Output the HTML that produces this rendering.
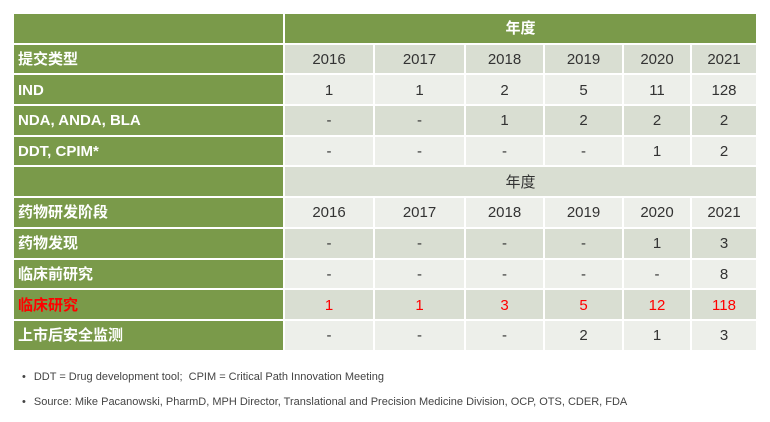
<!DOCTYPE html>
<html><head><meta charset="utf-8"><style>
body{margin:0;width:770px;height:422px;background:#fff;position:relative;overflow:hidden;font-family:"Liberation Sans","Noto Sans CJK SC",sans-serif}
table{position:absolute;left:12px;top:12px;border-collapse:collapse;table-layout:fixed}
td{height:26.7px;padding:2px 0 0 0;border:2px solid #fff;text-align:center;font-size:15px;color:#333;line-height:16px}
td.l{background:#7a9a4a;color:#fff;font-weight:bold;text-align:left;padding-left:4px}
tr.d td:not(.l){background:#d9ded2}
tr.e td:not(.l){background:#edefea}
tr.h td{background:#7a9a4a;color:#fff;font-weight:bold}
.red,.red td{color:#f00!important}
.fn{position:absolute;left:22px;font-size:11px;color:#444}
.fn span{margin-right:8px}
</style></head><body>
<table>
<colgroup><col style="width:271px"><col style="width:90px"><col style="width:91px"><col style="width:79px"><col style="width:79px"><col style="width:68px"><col style="width:66px"></colgroup>
<tr class="h"><td class="l"></td><td colspan="6">年度</td></tr>
<tr class="d"><td class="l">提交类型</td><td>2016</td><td>2017</td><td>2018</td><td>2019</td><td>2020</td><td>2021</td></tr>
<tr class="e"><td class="l">IND</td><td>1</td><td>1</td><td>2</td><td>5</td><td>11</td><td>128</td></tr>
<tr class="d"><td class="l">NDA, ANDA, BLA</td><td>-</td><td>-</td><td>1</td><td>2</td><td>2</td><td>2</td></tr>
<tr class="e"><td class="l">DDT, CPIM*</td><td>-</td><td>-</td><td>-</td><td>-</td><td>1</td><td>2</td></tr>
<tr class="d"><td class="l"></td><td colspan="6">年度</td></tr>
<tr class="e"><td class="l">药物研发阶段</td><td>2016</td><td>2017</td><td>2018</td><td>2019</td><td>2020</td><td>2021</td></tr>
<tr class="d"><td class="l">药物发现</td><td>-</td><td>-</td><td>-</td><td>-</td><td>1</td><td>3</td></tr>
<tr class="e"><td class="l">临床前研究</td><td>-</td><td>-</td><td>-</td><td>-</td><td>-</td><td>8</td></tr>
<tr class="d red"><td class="l red">临床研究</td><td>1</td><td>1</td><td>3</td><td>5</td><td>12</td><td>118</td></tr>
<tr class="e"><td class="l">上市后安全监测</td><td>-</td><td>-</td><td>-</td><td>2</td><td>1</td><td>3</td></tr>
</table>
<div class="fn" style="top:371px"><span>•</span>DDT = Drug development tool;&nbsp; CPIM = Critical Path Innovation Meeting</div>
<div class="fn" style="top:396px"><span>•</span>Source: Mike Pacanowski, PharmD, MPH Director, Translational and Precision Medicine Division, OCP, OTS, CDER, FDA</div>
</body></html>
